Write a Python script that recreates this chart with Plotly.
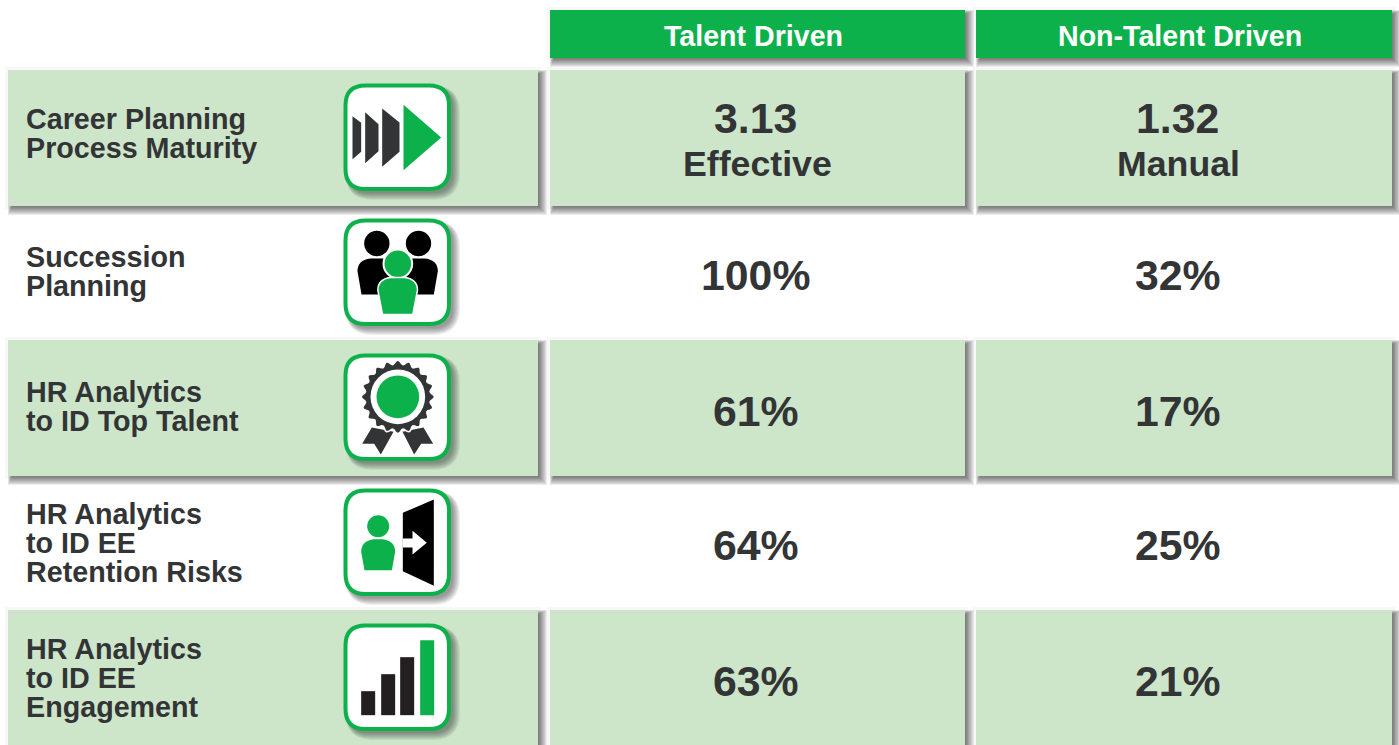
import math
import plotly.graph_objects as go

# ---- chart content ----
column_headers = ["Talent Driven", "Non-Talent Driven"]
row_labels = [
    ["Career Planning", "Process Maturity"],
    ["Succession", "Planning"],
    ["HR Analytics", "to ID Top Talent"],
    ["HR Analytics", "to ID EE", "Retention Risks"],
    ["HR Analytics", "to ID EE", "Engagement"],
]
talent_values = ["3.13", "100%", "61%", "64%", "63%"]
non_talent_values = ["1.32", "32%", "17%", "25%", "21%"]
talent_sub = ["Effective", "", "", "", ""]
non_talent_sub = ["Manual", "", "", "", ""]

# ---- layout constants ----
W, H = 1399, 745
GREEN = "#0db14b"
CELL = "#cde6ca"
DARK = "#333436"
FONT = "Liberation Sans, Arial, sans-serif"
COLS = [(550, 965), (976, 1392)]
LEFT = (8, 538)
ROW_TOPS = [70, 205, 340, 475, 610]
ROW_H = 136
VALUE_Y = [118, 275, 411, 545, 681]
LABEL_Y = [[119, 148], [257, 286], [392, 421], [514, 543, 572], [649, 678, 707]]
VALUE_X = [755.5, 1177.5]
SUB_DX = [1.5, 0.8]
ICON_X, ICON_W = 343.5, 107.5
ICON_TOPS = [83.5, 218.5, 353.5, 488.5, 623.5]

shapes, notes = [], []


def rect(x0, y0, x1, y1, fill, opacity=1):
    shapes.append(dict(type="rect", xref="x", yref="y", x0=x0, y0=y0, x1=x1, y1=y1,
                       fillcolor=fill, opacity=opacity, line_width=0, layer="above"))


def rr_path(x0, y0, x1, y1, r):
    return (f"M{x0+r},{y0} L{x1-r},{y0} Q{x1},{y0} {x1},{y0+r} L{x1},{y1-r} Q{x1},{y1} {x1-r},{y1} "
            f"L{x0+r},{y1} Q{x0},{y1} {x0},{y1-r} L{x0},{y0+r} Q{x0},{y0} {x0+r},{y0} Z")


def path(d, fill, line=None, lw=0, opacity=1):
    shapes.append(dict(type="path", xref="x", yref="y", path=d, fillcolor=fill, opacity=opacity,
                       line=dict(color=line or fill, width=lw), layer="above"))


def shadow_rect(x0, y0, x1, y1, dx=3, dy=3):
    rect(x0 - 3, y0 - 3, x1 + 3, y1 + 3, "#303030", 0.035)
    for s in range(6, -3, -1):
        rect(x0 + dx - s * 0.5, y0 + dy - s * 0.5, x1 + dx + s, y1 + dy + s, "#303030", 0.09)


def cell(x0, y0, x1, y1, fill=CELL):
    shadow_rect(x0, y0, x1, y1)
    rect(x0, y0, x1, y1, fill)


def text(x, y, s, size, color=DARK, anchor="center"):
    notes.append(dict(x=x, y=y, xref="x", yref="y", text=f"<b>{s}</b>", showarrow=False,
                      xanchor=anchor, yanchor="middle", align=anchor,
                      font=dict(family=FONT, size=size, color=color)))


# ---- icon geometry in local units (reference crop, 3 units per pixel) ----
def poly(points, ox, oy):
    return "M" + " L".join(f"{ox + u / 3:.2f},{oy + v / 3:.2f}" for u, v in points) + " Z"


def circle(ox, oy, cu, cv, r, fill):
    shapes.append(dict(type="circle", xref="x", yref="y", x0=ox + (cu - r) / 3, y0=oy + (cv - r) / 3,
                       x1=ox + (cu + r) / 3, y1=oy + (cv + r) / 3, fillcolor=fill,
                       line_width=0, layer="above"))


def body(ox, oy, xl, xr, top, bot, inset, fill, line=None, lw=0):
    m = lambda u, v: f"{ox + u / 3:.2f},{oy + v / 3:.2f}"
    d = (f"M{m(xl + inset, bot)} L{m(xl, top + 38)} Q{m(xl, top + 5)} {m(xl + 38, top)} "
         f"L{m(xr - 38, top)} Q{m(xr, top + 5)} {m(xr, top + 38)} L{m(xr - inset, bot)} Z")
    path(d, fill, line, lw)


def icon_arrows(ox, oy):
    for pts in ([(27, 98), (53, 118), (53, 205), (27, 227)],
                [(65, 86), (105, 122), (105, 203), (65, 239)],
                [(116, 75), (168, 117), (168, 205), (116, 250)]):
        path(poly(pts, ox, oy), DARK)
    path(poly([(180, 64), (293, 162), (180, 260)], ox, oy), GREEN)


def icon_people(ox, oy):
    circle(ox, oy, 100, 75, 38, "#000000")
    circle(ox, oy, 225, 75, 38, "#000000")
    body(ox, oy, 42, 168, 120, 228, 12, "#000000")
    body(ox, oy, 157, 283, 120, 228, 12, "#000000")
    circle(ox, oy, 163, 136, 46, "#ffffff")
    circle(ox, oy, 163, 136, 40, GREEN)
    body(ox, oy, 103, 222, 177, 288, 14, GREEN, "#ffffff", 1.5)


def icon_medal(ox, oy):
    path(poly([(85, 222), (56, 271), (92, 271), (112, 303), (150, 235)], ox, oy), DARK)
    path(poly([(240, 222), (269, 271), (233, 271), (212, 303), (177, 235)], ox, oy), DARK)
    n, pts = 160, []
    for i in range(n):
        t = 2 * math.pi * i / n
        r = 104 + 6 * math.cos(20 * t)
        pts.append((163 + r * math.sin(t), 130 - r * math.cos(t)))
    path(poly(pts, ox, oy), DARK, "#ffffff", 1.5)
    circle(ox, oy, 163, 130, 82, "#ffffff")
    circle(ox, oy, 163, 130, 64, GREEN)


def icon_exit(ox, oy):
    circle(ox, oy, 104, 113, 33, GREEN)
    body(ox, oy, 53, 155, 152, 245, 10, GREEN)
    path(poly([(178, 73), (271, 33), (271, 292), (178, 248)], ox, oy), "#000000")
    path(poly([(178, 150), (207, 150), (207, 127), (250, 163), (207, 198), (207, 177), (178, 177)], ox, oy), "#ffffff")


def icon_bars(ox, oy):
    for u0, u1, v0, c in [(53, 95, 203, "#231f20"), (113, 155, 152, "#231f20"),
                          (170, 212, 101, "#231f20"), (230, 272, 50, GREEN)]:
        path(poly([(u0, v0), (u1, v0), (u1, 275), (u0, 275)], ox, oy), c)


ICONS = [icon_arrows, icon_people, icon_medal, icon_exit, icon_bars]

# ---- header ----
for (x0, x1), label, cx in zip(COLS, column_headers, [753, 1180]):
    cell(x0, 10, x1, 58, GREEN)
    text(cx, 36, label, 28.6, "#ffffff")

# ---- rows ----
for i in range(5):
    top = ROW_TOPS[i]
    if i % 2 == 0:
        cell(LEFT[0], top, LEFT[1], top + ROW_H)
        for x0, x1 in COLS:
            cell(x0, top, x1, top + ROW_H)
    # row label
    for line, y in zip(row_labels[i], LABEL_Y[i]):
        text(24, y, line, 28.7, anchor="left")
    # icon frame
    ix, iy = ICON_X, ICON_TOPS[i]
    for s in range(5, -3, -1):
        path(rr_path(ix + 4 - s * 0.4, iy + 4 - s * 0.4, ix + ICON_W + 4 + s, iy + ICON_W + 4 + s, 22 + s), "#303030", opacity=0.08)
    path(rr_path(ix + 2, iy + 2, ix + ICON_W - 2, iy + ICON_W - 2, 20), "#ffffff", GREEN, 4)
    ICONS[i](ix, iy)
    # values
    for vx, val, sub, sdx in zip(VALUE_X, (talent_values[i], non_talent_values[i]),
                                 (talent_sub[i], non_talent_sub[i]), SUB_DX):
        text(vx, VALUE_Y[i], val, 42.8)
        if sub:
            text(vx + sdx, VALUE_Y[i] + 46, sub, 35.7)

fig = go.Figure()
fig.update_layout(
    width=W, height=H, margin=dict(l=0, r=0, t=0, b=0),
    paper_bgcolor="#ffffff", plot_bgcolor="#ffffff", showlegend=False,
    xaxis=dict(range=[0, W], visible=False, fixedrange=True),
    yaxis=dict(range=[H, 0], visible=False, fixedrange=True),
    shapes=shapes, annotations=notes,
)
fig.write_html("out.html", config=dict(displayModeBar=False),
               post_script="document.body.style.margin='0';document.body.style.overflow='hidden';")
